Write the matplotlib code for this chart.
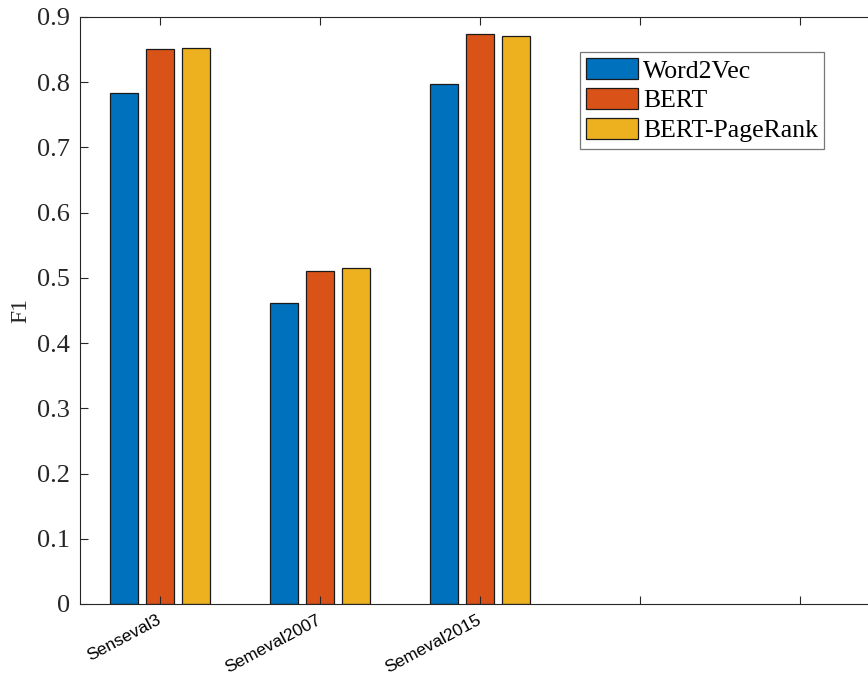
import numpy as np
import matplotlib
matplotlib.use("Agg")
import matplotlib.pyplot as plt

datasets = ["Senseval3", "Semeval2007", "Semeval2015", "", ""]
methods = ["Word2Vec", "BERT", "BERT-PageRank"]
word2vec = [0.783, 0.462, 0.797]
bert = [0.851, 0.511, 0.874]
bert_pagerank = [0.853, 0.515, 0.871]
colors = ["#0072BD", "#D95319", "#EDB120"]

plt.rcParams["font.family"] = ["Liberation Serif", "DejaVu Serif"]

fig = plt.figure(figsize=(8.68, 6.75), dpi=100)
ax = fig.add_axes([80 / 868, 71 / 675, 800 / 868, 587 / 675])

x = np.arange(1, len(word2vec) + 1)
width = 0.175
step = 0.222
for i, (vals, name) in enumerate(zip([word2vec, bert, bert_pagerank], methods)):
    ax.bar(x + (i - 1) * step, vals, width, color=colors[i], edgecolor="#1a1a1a",
           linewidth=0.9, label=name)

ax.set_xlim(0.5, 5.5)
ax.set_ylim(0, 0.9)
ax.set_yticks(np.arange(0, 0.91, 0.1))
ax.set_yticklabels(["0" if v == 0 else "%.1f" % v for v in np.arange(0, 0.91, 0.1)])
ax.set_xticks(np.arange(1, 6))
ax.set_xticklabels(datasets, rotation=28, ha="right", va="center",
                   rotation_mode="anchor", family="Liberation Sans", fontsize=12.5)
ax.tick_params(axis="x", direction="in", length=6, width=0.8, top=True, pad=11,
               colors="#262626", labelcolor="black")
ax.tick_params(axis="y", direction="in", length=6, width=0.8, right=False, pad=7,
               colors="#262626", labelcolor="#262626", labelsize=19)
for s in ["left", "bottom", "top"]:
    ax.spines[s].set_color("#262626")
    ax.spines[s].set_linewidth(0.8)
ax.spines["right"].set_visible(False)

ax.set_ylabel("F1", fontsize=17, color="#262626", labelpad=4)

leg = ax.legend(loc="upper left", bbox_to_anchor=(580 / 868, 1 - 52 / 675),
                bbox_transform=fig.transFigure, fontsize=18.5, frameon=True,
                fancybox=False, handlelength=2.0, handleheight=0.85,
                handletextpad=0.2, labelspacing=0.22, borderpad=0.25,
                borderaxespad=0)
leg.get_frame().set_edgecolor("#555555")
leg.get_frame().set_linewidth(0.9)

fig.savefig("out.png", dpi=100)
